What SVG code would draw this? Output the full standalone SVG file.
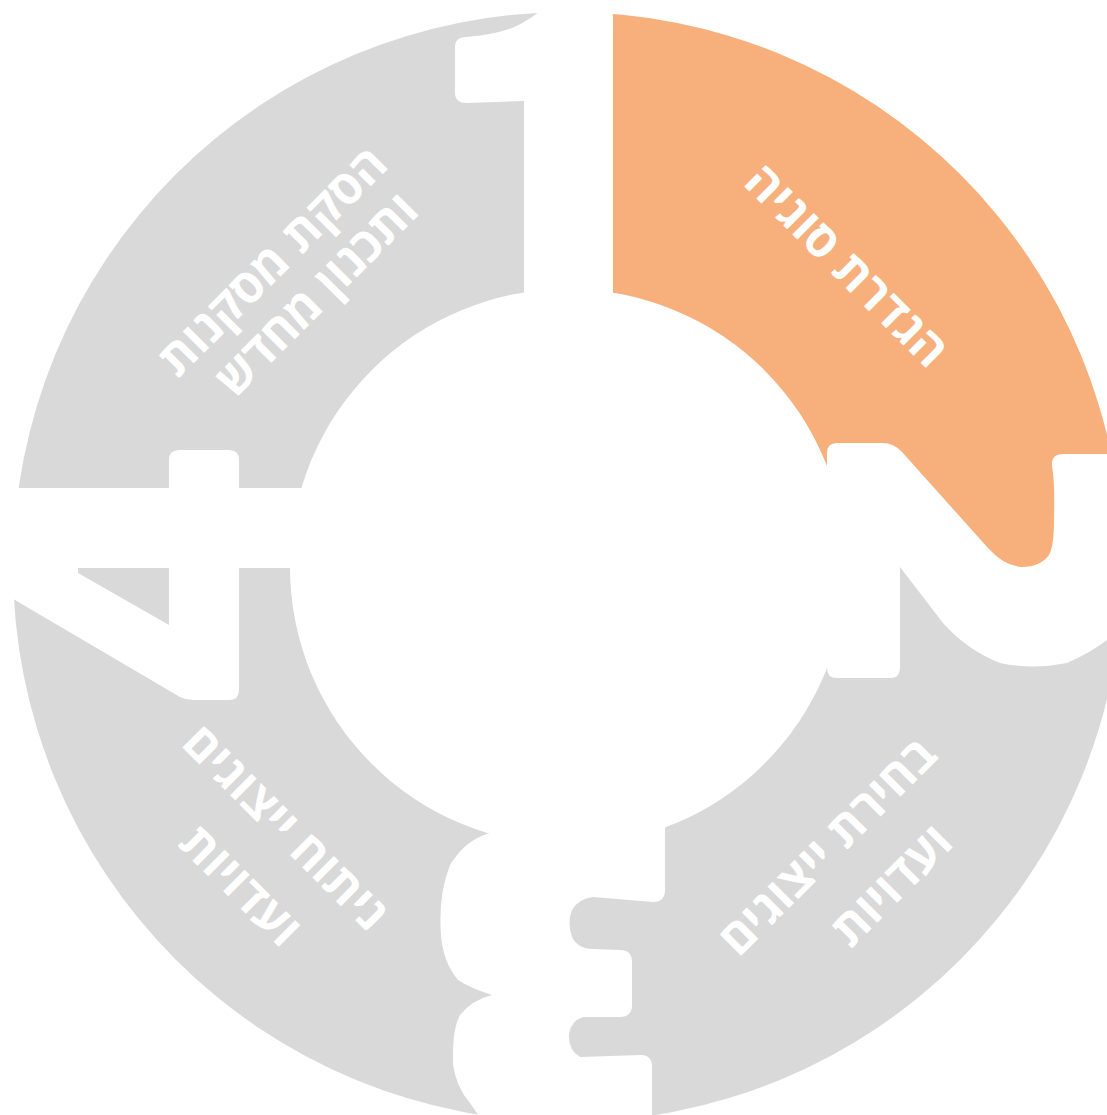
<svg xmlns="http://www.w3.org/2000/svg" width="1107" height="1115" viewBox="0 0 1107 1115">
<defs>
<style>
.gray{fill:#D9D9D9}
.orange{fill:#F7B07B}
.digit{fill:#FFFFFF}
.lbl{fill:#FFFFFF;font-family:"Open Sans","Liberation Sans","DejaVu Sans",sans-serif;font-size:48px;font-weight:700;text-anchor:middle}
</style>
<path id="ring" fill-rule="evenodd" d="M13,567 A555,555 0 1,0 1123,567 A555,555 0 1,0 13,567 Z M290,567 A278,278 0 1,1 846,567 A278,278 0 1,1 290,567 Z"/>
<clipPath id="cTR"><polygon points="555,540 555,-20 1130,-20 1130,600 1000,600 910,562"/></clipPath>
<clipPath id="cBR"><polygon points="555,540 910,562 1000,600 1130,600 1130,1130 555,1130"/></clipPath>
<clipPath id="cBL"><polygon points="555,540 555,1130 -20,1130 -20,528"/></clipPath>
<clipPath id="cTL"><polygon points="555,540 -20,528 -20,-20 555,-20"/></clipPath>
</defs>
<rect width="1107" height="1115" fill="#FFFFFF"/>
<g id="step-1">
<use href="#ring" class="orange" clip-path="url(#cTR)"/>
</g>
<g id="step-2">
<use href="#ring" class="gray" clip-path="url(#cBR)"/>
</g>
<g id="step-3">
<use href="#ring" class="gray" clip-path="url(#cBL)"/>
</g>
<g id="step-4">
<use href="#ring" class="gray" clip-path="url(#cTL)"/>
</g>
<g id="connectors">
<path class="digit" d="M547,5 L601,5 Q613,5 613,18 L613,305 L524,305 L524,101 L467,103 Q455,103 455,93 L455,47 Q455,37 466,37 Q492,35 512,28 Q531,20 547,5 Z"/>
<path class="digit" d="M827,453 Q827,443 837,443 L882,443 Q894,443 902,452 L988,548 Q1004,566 1022,567 Q1040,567 1049,555 Q1054,546 1054,520 Q1055,482 1052,466 Q1051,454 1063,454 L1120,454 L1120,628 L1107,640 Q1090,653 1067,663 Q1033,670 1000,663 Q967,650 943,623 L900,567 L900,668 Q900,678 890,678 L837,678 Q827,678 827,668 Z"/>
<path class="digit" d="M480,815 L665,815 L665,890 Q665,902 653,902 L593,897 Q578,899 572,910 Q567,923 572,937 Q578,949 593,949 L620,950 Q632,950 632,962 L632,1005 Q632,1017 620,1017 L583,1017 Q571,1021 569,1034 Q568,1050 580,1057 L641,1055 Q652,1055 652,1067 L652,1125 L485,1125 L470,1103 Q456,1087 453,1064 Q452,1030 460,1015 Q472,1000 492,995 Q470,988 458,980 Q443,962 441,935 Q438,895 450,865 Q465,840 490,833 Z"/>
<path class="digit" fill-rule="evenodd" d="M-5,488 L169,488 L169,460 Q169,450 179,450 L229,450 Q239,450 239,460 L239,488 L310,488 L310,568 L239,568 L239,690 Q239,700 229,700 L193,700 Q186,700 180,697 L20,603 Q14,599 8,597 L-5,597 Z M78,568 L169,568 L169,625 L78,573 Z"/>
</g>
<g id="labels">
<text class="lbl" transform="translate(847,265) rotate(45)" y="17">הגדרת סוגיה</text>
<text class="lbl" transform="translate(272,261) rotate(-45)" y="17">הסקת מסקנות</text>
<text class="lbl" transform="translate(316,294) rotate(-45)" y="17">ותכנון מחדש</text>
<text class="lbl" transform="translate(286,827) rotate(45)" y="17">ניתוח ייצוגים</text>
<text class="lbl" transform="translate(241,885) rotate(45)" y="17">ועדויות</text>
<text class="lbl" transform="translate(827,846) rotate(-45)" y="17">בחירת ייצוגים</text>
<text class="lbl" transform="translate(891,885) rotate(-45)" y="17">ועדויות</text>
</g>
</svg>
